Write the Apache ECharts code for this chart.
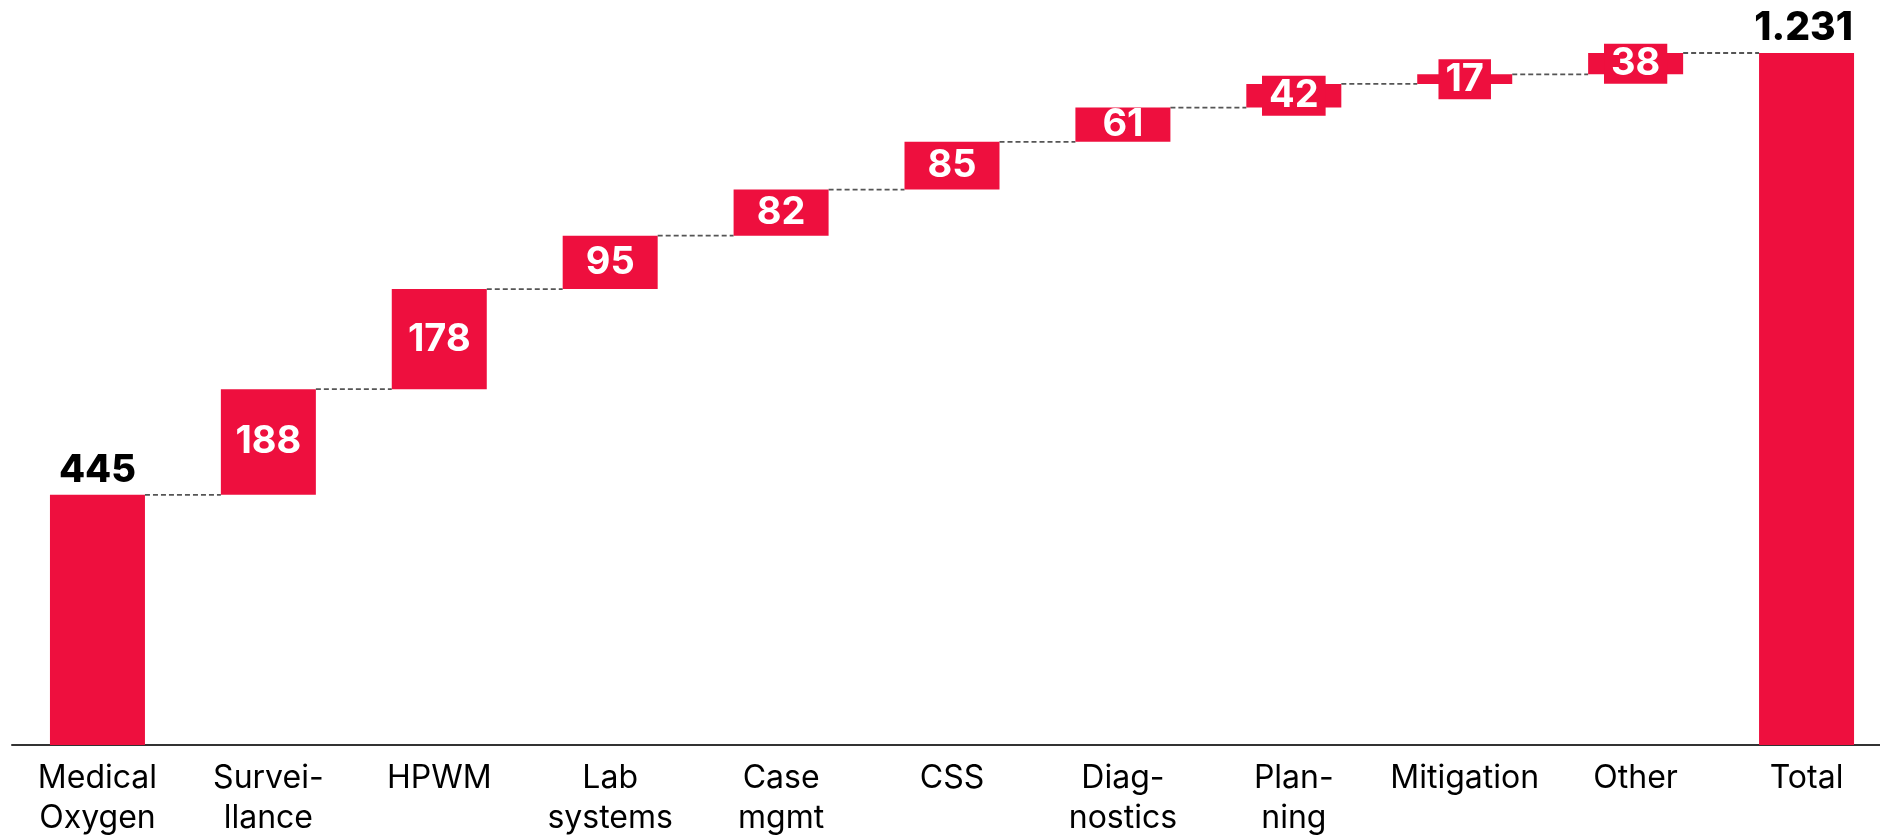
<!DOCTYPE html>
<html>
<head>
<meta charset="utf-8">
<script src="https://cdn.jsdelivr.net/npm/echarts@6/dist/echarts.min.js"></script>
<style>
  html, body { margin: 0; padding: 0; background: #ffffff; overflow: hidden; }
  /* the category band runs slightly past the right edge of the page */
  #chart { width: 1892px; height: 838px; }
</style>
</head>
<body>
<div id="chart"></div>
<script>
// Funding breakdown by area, shown as a waterfall ending in the total
const categories = ['Medical\nOxygen', 'Survei-\nllance', 'HPWM', 'Lab\nsystems', 'Case\nmgmt', 'CSS',
  'Diag-\nnostics', 'Plan-\nning', 'Mitigation', 'Other', 'Total'];
const increments = [445, 188, 178, 95, 82, 85, 61, 42, 17, 38];
const totalValue = 1231;
const totalLabel = '1.231';

const RED = '#EE0F3E';
const FONT = 'Inter, "Liberation Sans", Arial, sans-serif';

// running totals: invisible base under each step, then the visible step
const bases = [];
const steps = [];
const tops = [];
let running = 0;
increments.forEach((v, i) => {
  bases.push(i === 0 ? 0 : running);
  steps.push(v);
  running += v;
  tops.push(running);
});
bases.push(0);
steps.push(totalValue);
tops.push(totalValue);

const lastIndex = categories.length - 1;
const BAR_W = 95;
// steps too short to hold their number get a red plate behind the label
const PLATE_BELOW = 55;

const chart = echarts.init(document.getElementById('chart'), null, { renderer: 'canvas' });

chart.setOption({
  animation: false,
  backgroundColor: '#ffffff',
  grid: { left: 12, right: 0, top: 53, bottom: 93, containLabel: false },
  xAxis: {
    type: 'category',
    data: categories,
    axisTick: { show: false },
    axisLine: { show: true, lineStyle: { color: '#333333', width: 2 } },
    axisLabel: {
      interval: 0,
      margin: 13,
      color: '#000000',
      fontFamily: FONT,
      fontSize: 32,
      lineHeight: 40
    },
    splitLine: { show: false }
  },
  yAxis: {
    type: 'value',
    min: 0,
    max: totalValue,
    show: false,
    splitLine: { show: false }
  },
  series: [
    {
      name: 'base',
      type: 'bar',
      stack: 'wf',
      barWidth: BAR_W,
      itemStyle: { color: 'transparent' },
      emphasis: { disabled: true },
      data: bases
    },
    {
      name: 'step',
      type: 'bar',
      stack: 'wf',
      barWidth: BAR_W,
      itemStyle: { color: RED },
      emphasis: { disabled: true },
      data: steps.map((v, i) => {
        const edge = i === 0 || i === lastIndex;
        const plate = !edge && v < PLATE_BELOW;
        return {
          value: v,
          label: edge ? {
            show: true,
            position: 'top',
            distance: 5,
            offset: i === lastIndex ? [-3, 0] : [0, 0],
            color: '#000000',
            fontFamily: FONT,
            fontWeight: 800,
            fontSize: i === lastIndex ? 39 : 38,
            formatter: i === lastIndex ? totalLabel : String(v)
          } : {
            show: true,
            position: 'inside',
            color: '#ffffff',
            fontFamily: FONT,
            fontWeight: 'bold',
            fontSize: 38,
            lineHeight: 38,
            backgroundColor: plate ? RED : 'transparent',
            padding: [1, 7, 1, 7],
            formatter: String(v)
          }
        };
      })
    },
    {
      // dashed connectors from each step's top to the next bar
      name: 'connectors',
      type: 'custom',
      silent: true,
      z: 1,
      data: tops.slice(0, lastIndex).map((t, i) => [i, t]),
      renderItem: function (params, api) {
        const i = api.value(0);
        const level = api.value(1);
        const a = api.coord([i, level]);
        const b = api.coord([i + 1, level]);
        const half = BAR_W / 2;
        return {
          type: 'line',
          shape: { x1: a[0] + half, y1: a[1], x2: b[0] - half, y2: b[1] },
          style: { stroke: '#555555', lineWidth: 1.8, lineDash: [5, 3] }
        };
      }
    }
  ]
});
</script>
</body>
</html>
